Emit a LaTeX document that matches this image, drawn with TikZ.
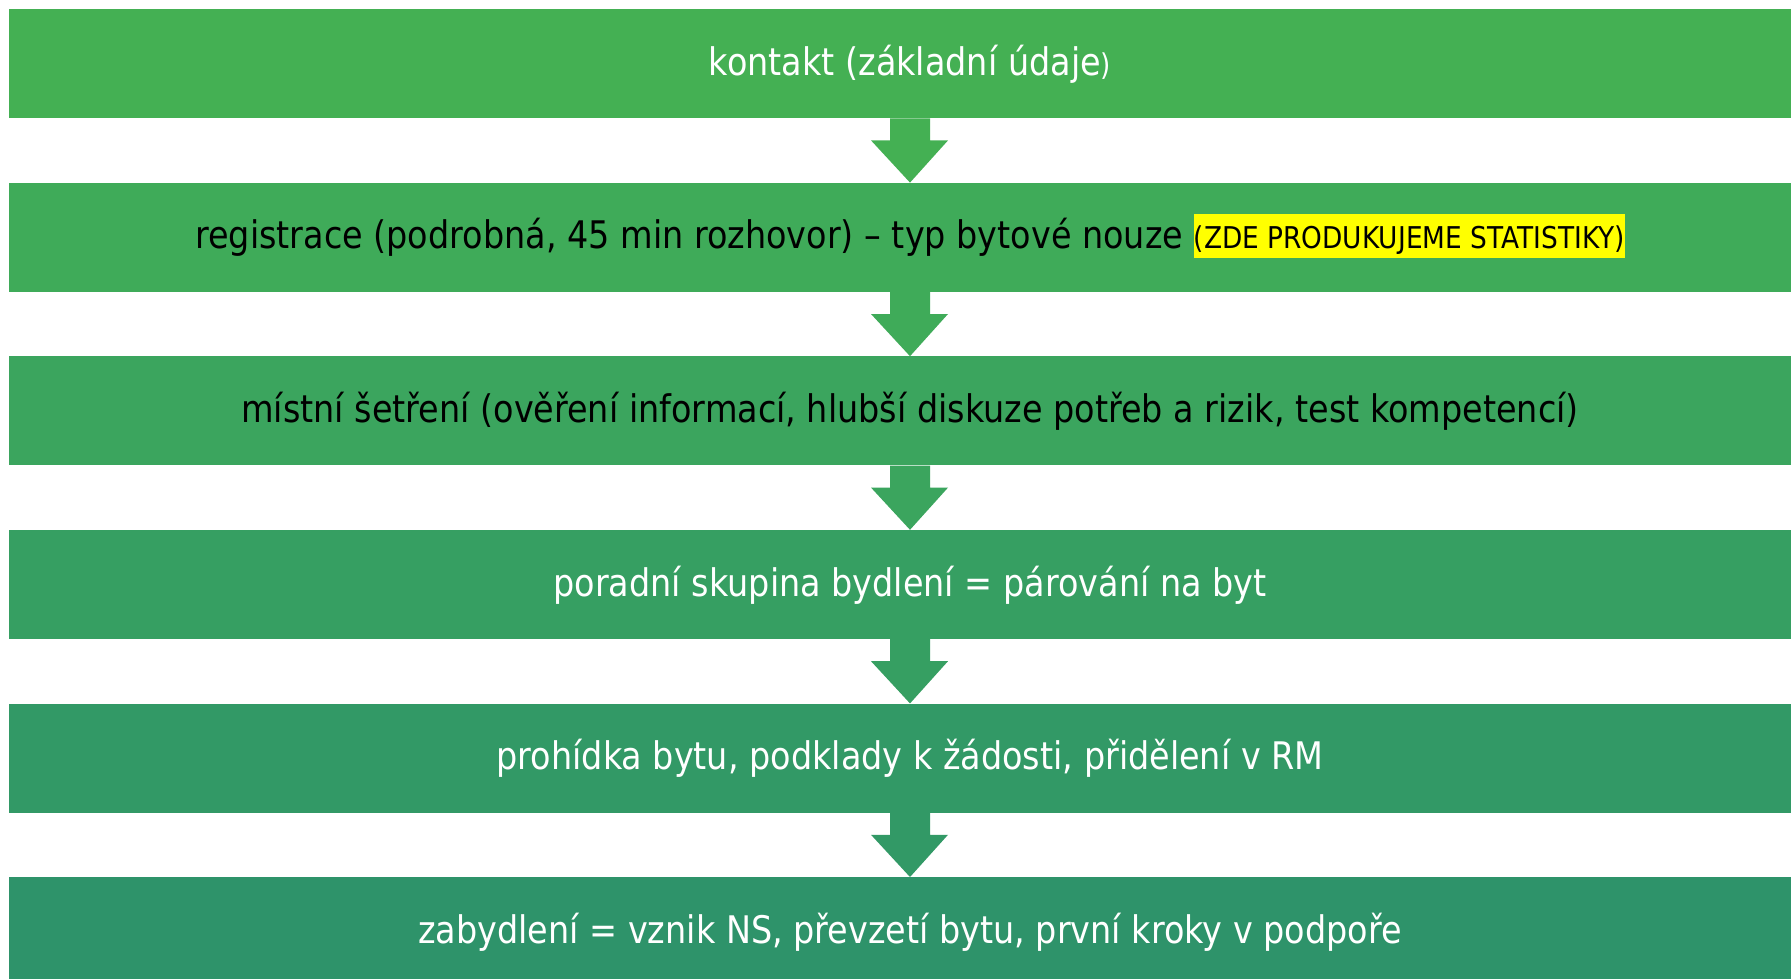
\documentclass[tikz,border=0pt]{standalone}
\usepackage{fontspec}
\setmainfont[FakeStretch=0.88]{DejaVu Sans}
\usetikzlibrary{calc}
\definecolor{cA}{RGB}{68,176,83}
\definecolor{cB}{RGB}{63,171,89}
\definecolor{cC}{RGB}{59,165,94}
\definecolor{cD}{RGB}{54,159,98}
\definecolor{cE}{RGB}{50,153,102}
\definecolor{cF}{RGB}{46,147,106}
\definecolor{hl}{RGB}{255,255,0}
\tikzset{
  bar/.style={rectangle, inner sep=0pt, minimum width=1782pt, minimum height=109pt, anchor=north west},
  label/.style={anchor=base, inner sep=0pt, font=\fontsize{38pt}{44pt}\selectfont},
}
\newcommand\flowarrow[3]{%
  \fill[#3] ($(#1)+(-20,0)$) -- ($(#1)+(-20,22)$) -- ($(#1)+(-39,22)$) -- (#2)
    -- ($(#1)+(38,22)$) -- ($(#1)+(20,22)$) -- ($(#1)+(20,0)$) -- cycle;}
\begin{document}
\begin{tikzpicture}[x=1pt,y=-1pt]
\clip (0,0) rectangle (1791,978);
\fill[white] (0,0) rectangle (1791,978);
% bars
\node[bar, fill=cA] (b1) at (9,9) {};
\node[bar, fill=cB] (b2) at (9,182.6) {};
\node[bar, fill=cC] (b3) at (9,356.2) {};
\node[bar, fill=cD] (b4) at (9,529.8) {};
\node[bar, fill=cE] (b5) at (9,703.4) {};
\node[bar, fill=cF] (b6) at (9,877) {};
% arrow anchors
\foreach \i in {1,...,6} {\coordinate (t\i) at ($(b\i.north west)+(901,0)$);}
\foreach \i in {1,...,6} {\coordinate (s\i) at ($(b\i.south west)+(901,0)$);}
\flowarrow{s1}{t2}{cA}
\flowarrow{s2}{t3}{cB}
\flowarrow{s3}{t4}{cC}
\flowarrow{s4}{t5}{cD}
\flowarrow{s5}{t6}{cE}
% texts
\node[label, text=white] (l1) at ($(b1.west)+(901,11.5)$) {kontakt (základní údaje{\fontsize{30pt}{34pt}\selectfont)}};
\node[label, text=black] (l2) at ($(b2.west)+(901,11.5)$) {registrace (podrobná, 45 min rozhovor) – typ bytové nouze {\setlength\fboxsep{0pt}\colorbox{hl}{\fontsize{30pt}{34pt}\selectfont\rule[-9pt]{0pt}{44pt}(ZDE PRODUKUJEME STATISTIKY)}}};
\node[label, text=black] (l3) at ($(b3.west)+(901,11.5)$) {místní šetření (ověření informací, hlubší diskuze potřeb a rizik, test kompetencí)};
\node[label, text=white] (l4) at ($(b4.west)+(901,11.5)$) {poradní skupina bydlení = párování na byt};
\node[label, text=white] (l5) at ($(b5.west)+(901,11.5)$) {prohídka bytu, podklady k žádosti, přidělení v RM};
\node[label, text=white] (l6) at ($(b6.west)+(901,11.5)$) {zabydlení = vznik NS, převzetí bytu, první kroky v podpoře};
\end{tikzpicture}
\end{document}
